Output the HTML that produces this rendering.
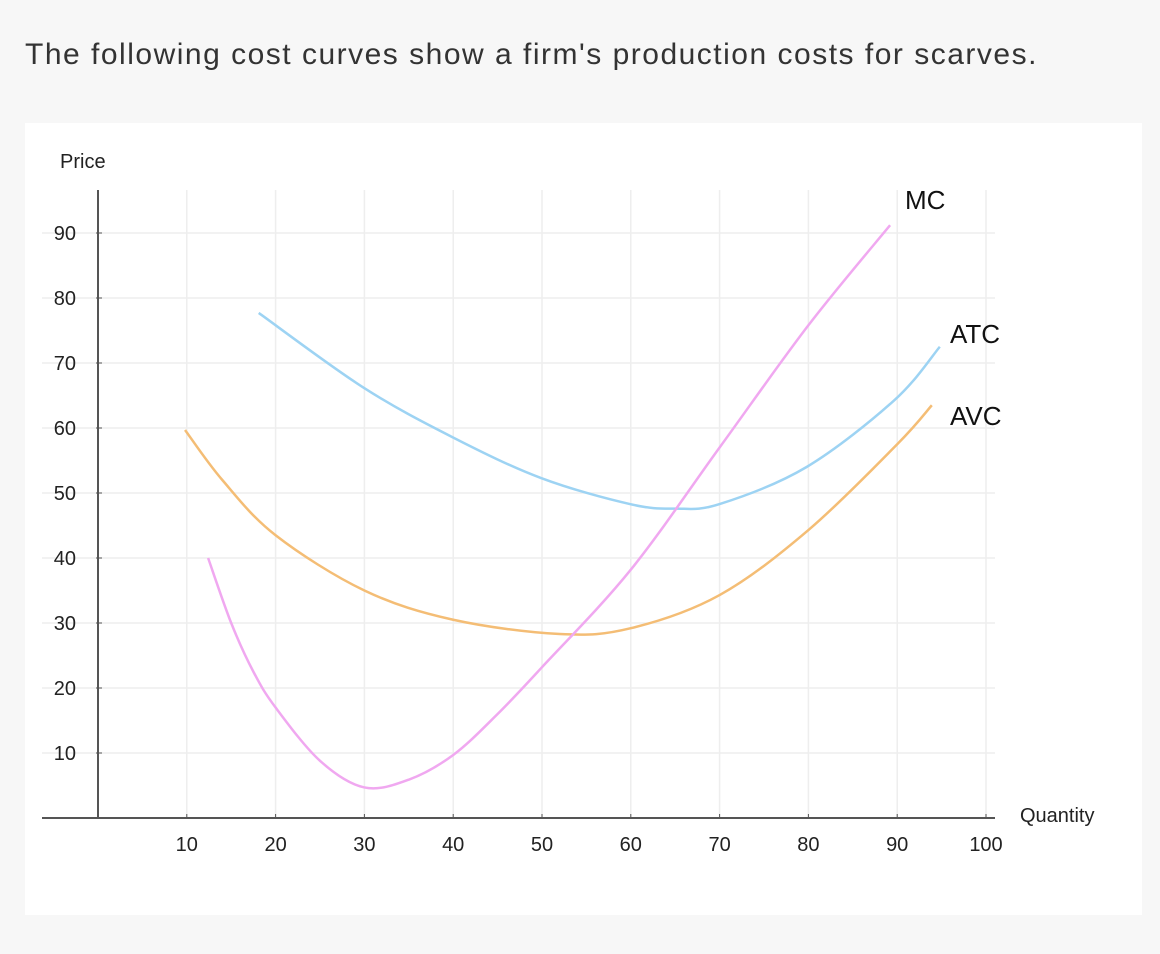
<!DOCTYPE html>
<html><head><meta charset="utf-8"><style>
body{margin:0;width:1160px;height:954px;background:#f7f7f7;font-family:"Liberation Sans",sans-serif;overflow:hidden}
.t{position:absolute;left:25px;top:38px;font-size:30px;letter-spacing:1.5px;color:#333}
.card{position:absolute;left:25px;top:123px;width:1117px;height:792px;background:#fff}
svg{position:absolute;left:0;top:0}
</style></head><body>
<div class="t">The following cost curves show a firm's production costs for scarves.</div>
<div class="card"></div>
<svg id="c" width="1160" height="954"></svg>
<script>
const xTicks=[10,20,30,40,50,60,70,80,90,100];
const yTicks=[10,20,30,40,50,60,70,80,90];
const mcQ=[12.4,15,17.5,20,25,30,35,40,45,50,60,70,80,89.2];
const mcP=[40,30,22.5,17,8.8,4.7,5.9,9.7,16,23.2,38.2,57,75.8,91.2];
const atcQ=[18.1,29.8,39.9,49.9,59.9,65,70,79.8,89.7,94.8];
const atcP=[77.7,66.3,58.6,52.3,48.3,47.6,48.3,54,64.3,72.5];
const avcQ=[9.8,14,20,30,40,52,60,70,80,90,93.9];
const avcP=[59.7,52,43.5,35,30.5,28.3,29.2,34.3,44.3,57.5,63.5];
const sx=v=>98+v*8.88, sy=v=>818-v*6.5;
const svg=document.getElementById('c'),NS='http://www.w3.org/2000/svg';
function mk(tag,a,txt){const e=document.createElementNS(NS,tag);for(const k in a)e.setAttribute(k,a[k]);if(txt!==undefined)e.textContent=txt;svg.appendChild(e);return e;}
xTicks.forEach(v=>{const g=mk('line',{x1:sx(v),x2:sx(v),y1:190,y2:818,stroke:'#eee','stroke-width':1.5});

const l=mk('text',{x:sx(v),y:851,'text-anchor':'middle','font-size':20,fill:'#222'},v);

mk('line',{x1:sx(v),x2:sx(v),y1:814,y2:819,stroke:'#555'});});
yTicks.forEach(v=>{const g=mk('line',{x1:42,x2:995,y1:sy(v),y2:sy(v),stroke:'#eee','stroke-width':1.5});

const l=mk('text',{x:76,y:sy(v)+7,'text-anchor':'end','font-size':20,fill:'#222'},v);

mk('line',{x1:96,x2:102,y1:sy(v),y2:sy(v),stroke:'#555'});});
const ax=mk('line',{x1:98,x2:98,y1:190,y2:818,stroke:'#555','stroke-width':2});

const ax2=mk('line',{x1:42,x2:995,y1:818,y2:818,stroke:'#555','stroke-width':2});

function curve(Q,P,color,name){const pts=Q.map((q,i)=>[sx(q),sy(P[i])]);let d='M'+pts[0].join(',');
for(let i=0;i<pts.length-1;i++){const p0=pts[Math.max(0,i-1)],p1=pts[i],p2=pts[i+1],p3=pts[Math.min(pts.length-1,i+2)];
d+=` C${p1[0]+(p2[0]-p0[0])/6},${p1[1]+(p2[1]-p0[1])/6} ${p2[0]-(p3[0]-p1[0])/6},${p2[1]-(p3[1]-p1[1])/6} ${p2[0]},${p2[1]}`;}
const e=mk('path',{d:d,fill:'none',stroke:color,'stroke-width':2.5});
}
curve(avcQ,avcP,'#f4bd75','avc-curve');
curve(atcQ,atcP,'#9dd3f3','atc-curve');
curve(mcQ,mcP,'#f0a8f0','mc-curve');
const labs=[['MC',905,209,'mc-label'],['ATC',950,343,'atc-label'],['AVC',950,425,'avc-label']];
labs.forEach(a=>{const e=mk('text',{x:a[1],y:a[2],'font-size':26,fill:'#111'},a[0]);});
let e=mk('text',{x:60,y:168,'font-size':20,fill:'#222'},'Price');
e=mk('text',{x:1020,y:822,'font-size':20,fill:'#222'},'Quantity');
</script>
</body></html>
